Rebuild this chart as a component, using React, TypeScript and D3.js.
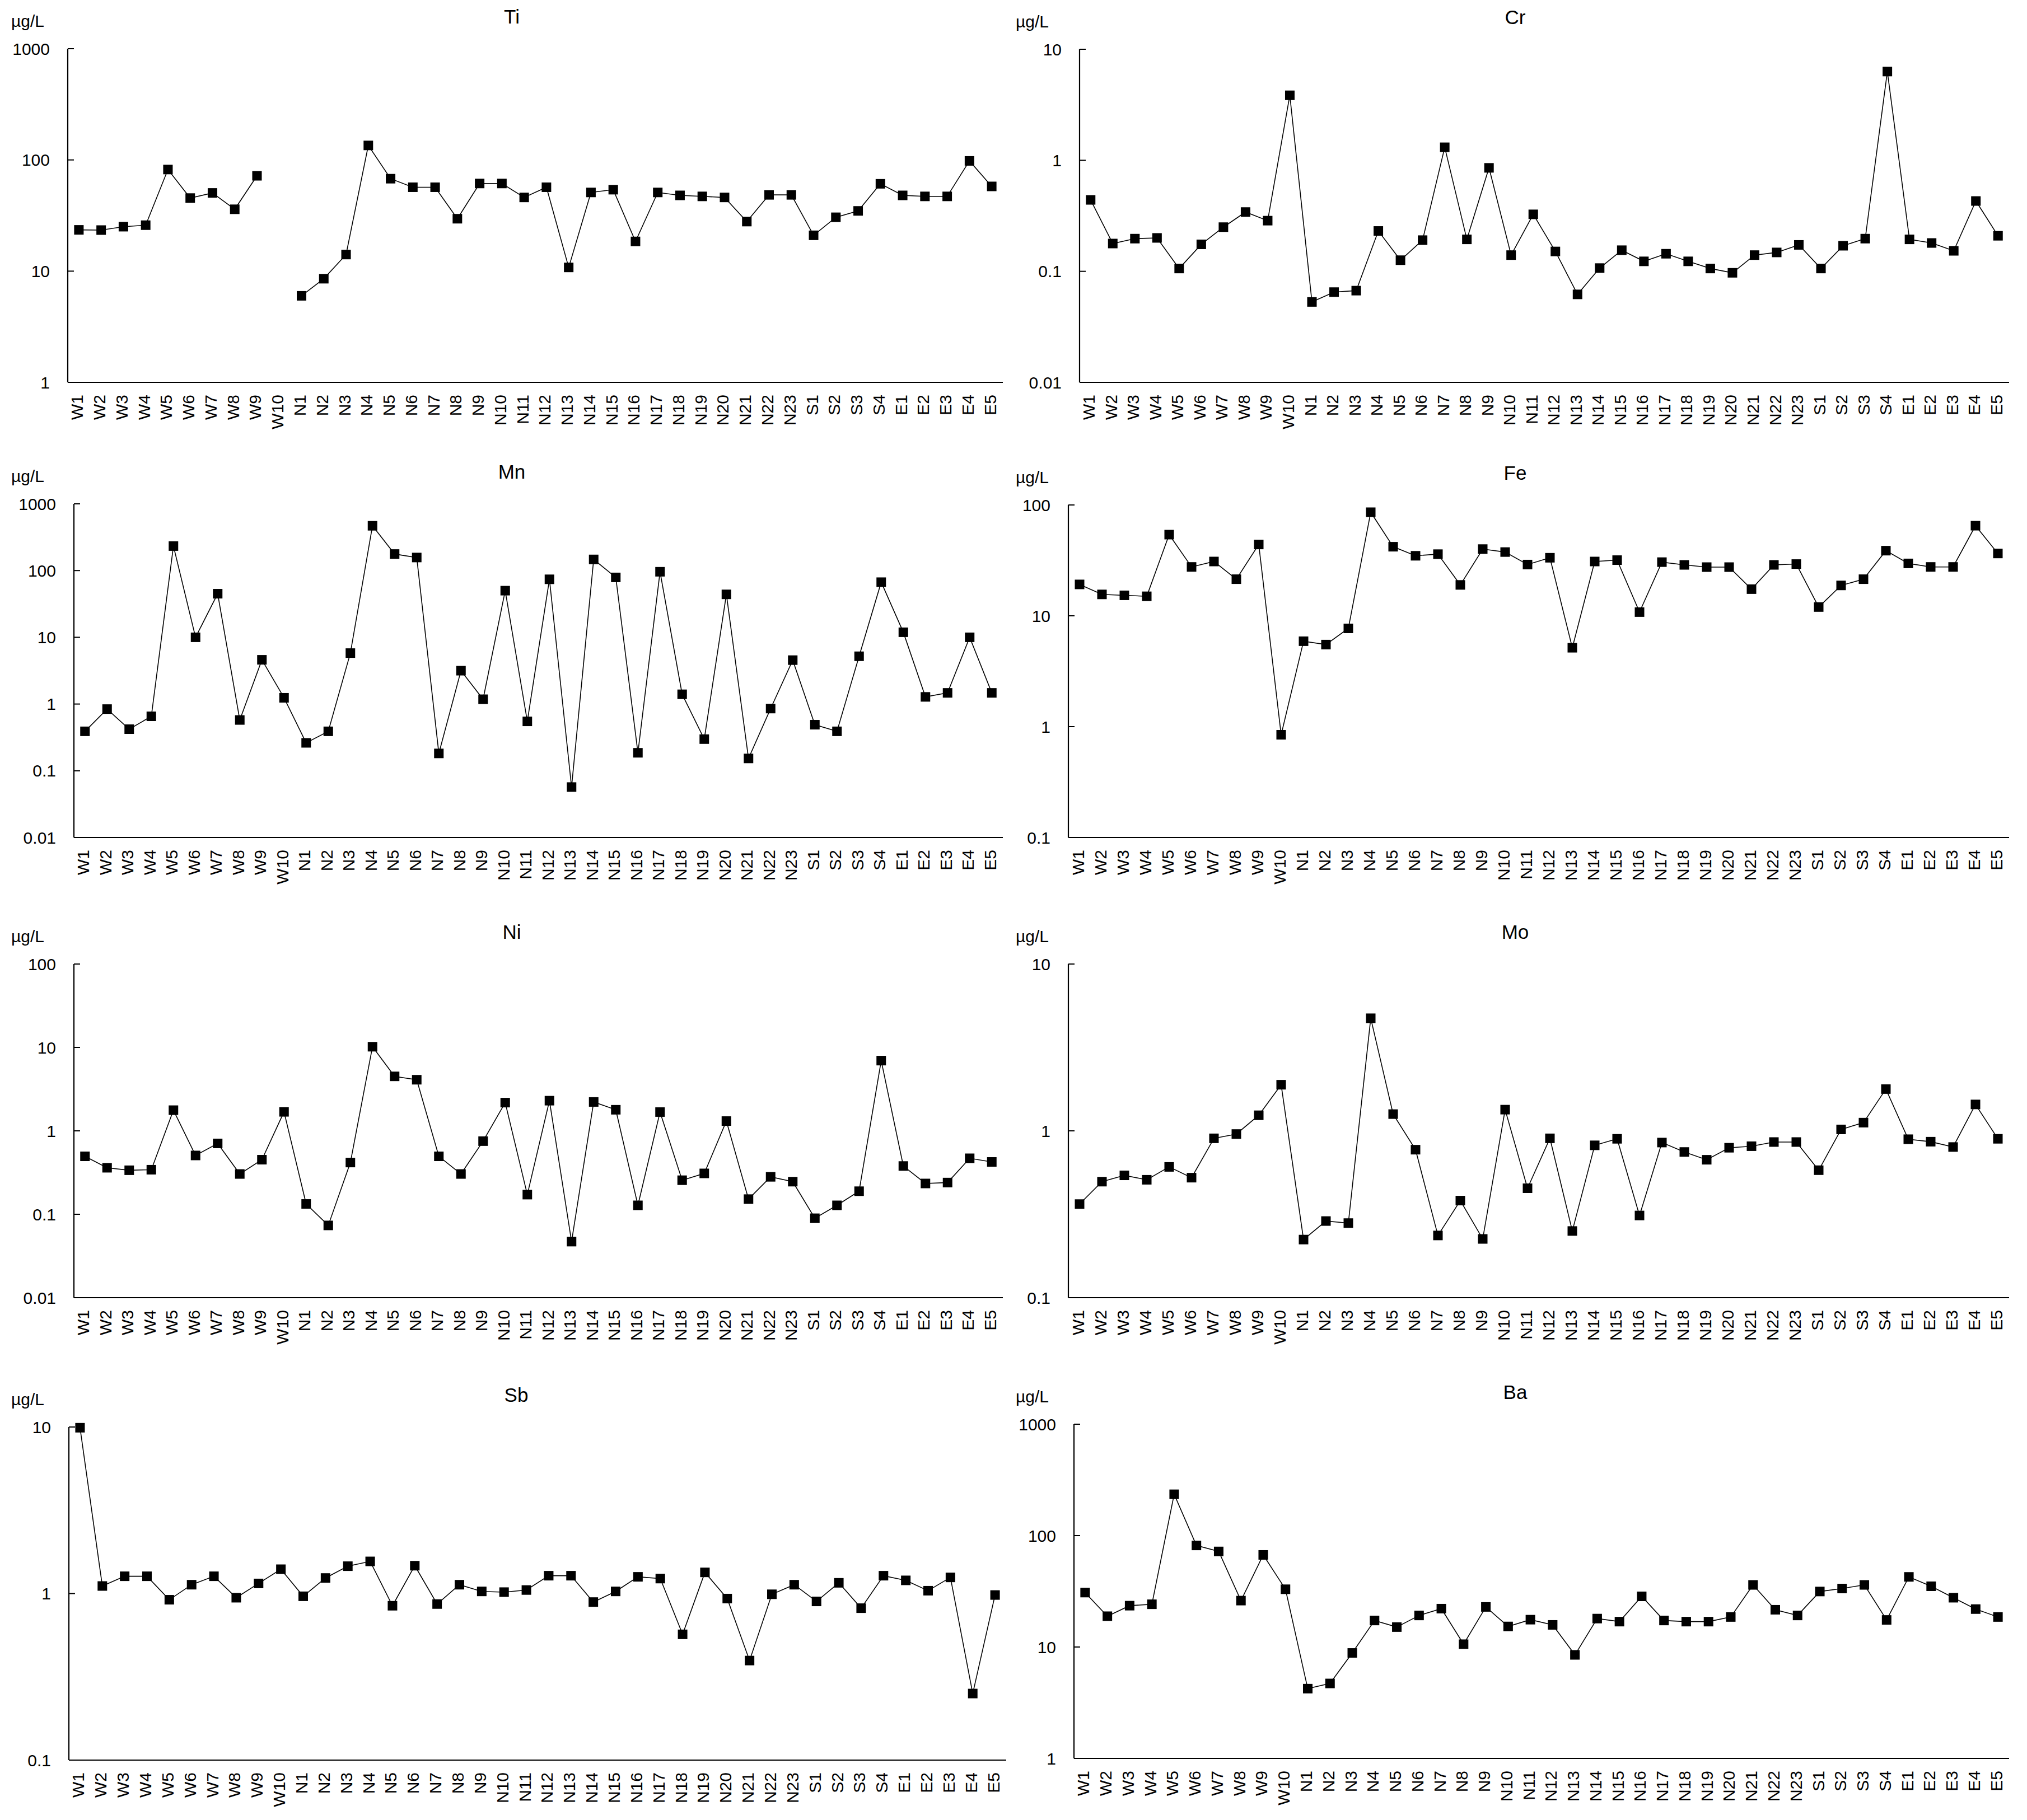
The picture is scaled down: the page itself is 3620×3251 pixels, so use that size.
import React from 'react';
import * as d3 from 'd3';

const sites = [
  'W1', 'W2', 'W3', 'W4', 'W5', 'W6', 'W7', 'W8', 'W9', 'W10',
  'N1', 'N2', 'N3', 'N4', 'N5', 'N6', 'N7', 'N8', 'N9', 'N10', 'N11', 'N12',
  'N13', 'N14', 'N15', 'N16', 'N17', 'N18', 'N19', 'N20', 'N21', 'N22', 'N23',
  'S1', 'S2', 'S3', 'S4', 'E1', 'E2', 'E3', 'E4', 'E5',
];

// µg/L (null = no data)
const ti = [23.5, 23.4, 25.1, 25.9, 82, 45.4, 50.5, 36, 72, null,
  6.0, 8.55, 14.1, 135, 67.8, 56.8, 56.8, 29.6, 61.4, 61.4, 46, 56.8,
  10.8, 51, 54, 18.5, 51, 48, 47, 46, 27.9, 48.5, 48.5,
  21, 30.5, 34.8, 61, 48, 47, 47, 98, 57.8];
const cr = [0.44, 0.178, 0.197, 0.2, 0.106, 0.175, 0.25, 0.342, 0.286, 3.85,
  0.053, 0.065, 0.067, 0.231, 0.126, 0.191, 1.31, 0.194, 0.855, 0.14, 0.326, 0.151,
  0.062, 0.107, 0.155, 0.123, 0.144, 0.123, 0.106, 0.097, 0.14, 0.148, 0.173,
  0.106, 0.17, 0.197, 6.3, 0.194, 0.18, 0.153, 0.43, 0.209];
const mn = [0.39, 0.84, 0.42, 0.655, 233, 10, 45, 0.577, 4.6, 1.24,
  0.262, 0.39, 5.8, 469, 177, 157, 0.182, 3.16, 1.18, 50, 0.55, 74,
  0.057, 147, 79, 0.186, 96, 1.4, 0.298, 44, 0.153, 0.855, 4.55,
  0.49, 0.39, 5.2, 67, 11.9, 1.28, 1.47, 10, 1.47];
const fe = [19.2, 15.6, 15.3, 15.0, 54, 27.6, 30.9, 21.4, 44, 0.845,
  5.9, 5.5, 7.7, 86, 42, 34.8, 36, 19, 40, 37.6, 29, 33.4,
  5.15, 30.9, 31.8, 10.8, 30.5, 28.8, 27.5, 27.5, 17.4, 28.8, 29.3,
  12.0, 18.8, 21.4, 38.7, 29.7, 27.6, 27.6, 65, 36.5];
const ni = [0.495, 0.361, 0.337, 0.342, 1.77, 0.507, 0.707, 0.304, 0.451, 1.69,
  0.133, 0.0735, 0.417, 10.2, 4.5, 4.1, 0.495, 0.304, 0.753, 2.18, 0.172, 2.3,
  0.047, 2.22, 1.79, 0.128, 1.68, 0.256, 0.309, 1.31, 0.152, 0.281, 0.246,
  0.0896, 0.128, 0.189, 6.95, 0.379, 0.234, 0.24, 0.469, 0.424];
const mo = [0.364, 0.496, 0.541, 0.509, 0.608, 0.524, 0.902, 0.957, 1.24, 1.89,
  0.223, 0.288, 0.28, 4.73, 1.26, 0.771, 0.236, 0.382, 0.225, 1.34, 0.453, 0.902,
  0.251, 0.819, 0.896, 0.311, 0.851, 0.747, 0.671, 0.792, 0.809, 0.857, 0.857,
  0.581, 1.02, 1.12, 1.78, 0.891, 0.861, 0.8, 1.44, 0.896];
const sb = [9.9, 1.11, 1.27, 1.27, 0.918, 1.13, 1.27, 0.944, 1.15, 1.4,
  0.963, 1.24, 1.46, 1.56, 0.845, 1.47, 0.865, 1.13, 1.03, 1.02, 1.05, 1.28,
  1.28, 0.889, 1.03, 1.26, 1.23, 0.569, 1.34, 0.933, 0.396, 0.99, 1.13,
  0.897, 1.16, 0.817, 1.28, 1.2, 1.04, 1.25, 0.251, 0.98];
const ba = [30.8, 18.9, 23.5, 24.2, 235, 81.6, 72.1, 26.1, 67.1, 33.0,
  4.23, 4.71, 8.85, 17.3, 15.1, 19.2, 22.1, 10.6, 22.9, 15.3, 17.6, 15.8,
  8.5, 18.0, 16.9, 28.5, 17.3, 16.9, 16.9, 18.6, 36.1, 21.6, 19.2,
  31.5, 33.5, 36.1, 17.5, 42.6, 35.1, 27.7, 21.9, 18.6];

const unit = 'µg/L';

type PanelSpec = {
  name: string;
  values: (number | null)[];
  domain: [number, number];
  x0: number; x1: number; top: number; bottom: number; titleX: number;
};

const panels: PanelSpec[] = [
  { name: 'Ti', values: ti, domain: [1, 1000], x0: 121, x1: 1791, top: 87, bottom: 683, titleX: 914 },
  { name: 'Cr', values: cr, domain: [0.01, 10], x0: 1928, x1: 3588, top: 88, bottom: 683, titleX: 2706 },
  { name: 'Mn', values: mn, domain: [0.01, 1000], x0: 132, x1: 1791, top: 900, bottom: 1496, titleX: 914 },
  { name: 'Fe', values: fe, domain: [0.1, 100], x0: 1908, x1: 3588, top: 902, bottom: 1496, titleX: 2706 },
  { name: 'Ni', values: ni, domain: [0.01, 100], x0: 132, x1: 1791, top: 1722, bottom: 2318, titleX: 914 },
  { name: 'Mo', values: mo, domain: [0.1, 10], x0: 1908, x1: 3588, top: 1722, bottom: 2318, titleX: 2706 },
  { name: 'Sb', values: sb, domain: [0.1, 10], x0: 123, x1: 1797, top: 2549, bottom: 3144, titleX: 922 },
  { name: 'Ba', values: ba, domain: [1, 1000], x0: 1918, x1: 3588, top: 2544, bottom: 3141, titleX: 2706 },
];

const font = 'Arial, "Liberation Sans", sans-serif';

const Panel = ({ p }: { p: PanelSpec }) => {
  const x = d3.scaleBand<string>().domain(sites).range([p.x0, p.x1]);
  const y = d3.scaleLog().domain(p.domain).range([p.bottom, p.top]);
  const cx = (s: string) => (x(s) as number) + x.bandwidth() / 2;
  const decades = y.ticks().filter(t => Math.abs(Math.log10(t) - Math.round(Math.log10(t))) < 1e-9);

  const line = d3.line<number | null>()
    .defined(d => d != null)
    .x((_, i) => cx(sites[i]))
    .y(d => y(d as number));

  const m = 17;

  return (
    <g>
      <text x={p.titleX} y={p.top - 58} textAnchor="middle" dominantBaseline="central"
        fontSize={35} fontFamily={font}>{p.name}</text>
      <text x={p.x0 < 1000 ? 20 : 1814} y={p.top - 50} dominantBaseline="central"
        fontSize={30} fontFamily={font}>{unit}</text>

      {decades.map(t => (
        <g key={t}>
          <line x1={p.x0} x2={p.x0 + 11} y1={y(t)} y2={y(t)} stroke="#000" strokeWidth={2} />
          <text x={p.x0 - 32} y={y(t)} textAnchor="end" dominantBaseline="central"
            fontSize={30} fontFamily={font}>{String(t)}</text>
        </g>
      ))}
      <line x1={p.x0} x2={p.x0} y1={p.top} y2={p.bottom} stroke="#000" strokeWidth={2.2} />
      <line x1={p.x0} x2={p.x1} y1={p.bottom} y2={p.bottom} stroke="#000" strokeWidth={2.2} />

      {sites.map(s => (
        <text key={s} transform={`translate(${cx(s) - 3},${p.bottom + 22}) rotate(-90)`}
          textAnchor="end" dy="0.35em" fontSize={30} fontFamily={font}>{s}</text>
      ))}

      <path d={line(p.values) || ''} fill="none" stroke="#000" strokeWidth={1.6} />
      {p.values.map((v, i) => v == null ? null : (
        <rect key={i} x={cx(sites[i]) - m / 2} y={y(v) - m / 2} width={m} height={m} fill="#000" />
      ))}
    </g>
  );
};

export default function App() {
  return (
    <svg width={3620} height={3251} viewBox="0 0 3620 3251"
      style={{ position: 'absolute', left: 0, top: 0, background: '#fff' }}>
      <rect width={3620} height={3251} fill="#fff" />
      {panels.map(p => <Panel key={p.name} p={p} />)}
    </svg>
  );
}
